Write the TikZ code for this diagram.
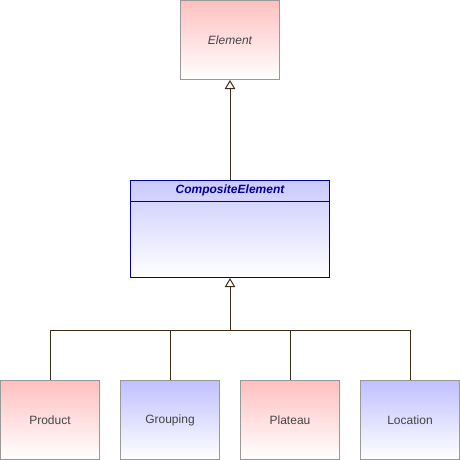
\documentclass[tikz,border=0pt]{standalone}
\usepackage{fontspec}
\setmainfont{Liberation Sans}
\usetikzlibrary{arrows.meta}
\definecolor{pinktop}{HTML}{FFC0C0}
\definecolor{bluetop}{HTML}{C0C0FF}
\definecolor{compblue}{HTML}{000099}
\definecolor{boxgrey}{HTML}{999999}
\definecolor{txtgrey}{HTML}{444444}
\definecolor{conncol}{HTML}{3C2D19}
\tikzset{
  cls/.style={rectangle, draw=boxgrey, line width=1pt, minimum width=99pt, minimum height=79pt,
    inner sep=0pt, text=txtgrey, font=\fontsize{12}{14}\selectfont},
  pinkcls/.style={cls, top color=pinktop, bottom color=white},
  bluecls/.style={cls, top color=bluetop, bottom color=white},
  compcls/.style={rectangle, draw=compblue, line width=1.2pt, minimum width=199pt, minimum height=97pt,
    inner sep=0pt, top color=bluetop!85!white, bottom color=white},
  conn/.style={draw=conncol, line width=1pt},
  gen/.style={conn, -{Triangle[open, length=9pt, width=10.5pt, fill=white]}}
}
\begin{document}
\begin{tikzpicture}[x=1pt,y=-1pt]
\useasboundingbox (0,0) rectangle (460,460);
\node[pinkcls, font=\fontsize{12}{14}\selectfont\itshape] (elem) at (230,40) {Element};
\node[compcls] (comp) at (230,229) {};
\draw[draw=compblue, line width=1pt] ([yshift=-22pt]comp.north west) -- ([yshift=-22pt]comp.north east);
\node[text=compblue, font=\fontsize{12}{14}\selectfont\bfseries\itshape] (comptitle) at (230,190.5) {CompositeElement};
\node[pinkcls] (prod) at (50,420) {Product};
\node[bluecls] (group) at (170,420) {Grouping};
\node[pinkcls] (plat) at (290,420) {Plateau};
\node[bluecls] (loc) at (410,420) {Location};
\draw[gen] (comp.north) -- (elem.south);
\coordinate (bus) at (230,330.5);
\coordinate (busL) at (50,330.5);
\coordinate (busR) at (410,330.5);
\draw[conn] (prod.north) -- (busL) -- (busR) -- (loc.north);
\draw[conn] (group.north) -- (group.north |- bus);
\draw[conn] (plat.north) -- (plat.north |- bus);
\draw[gen] (bus) -- (comp.south);
\end{tikzpicture}
\end{document}
